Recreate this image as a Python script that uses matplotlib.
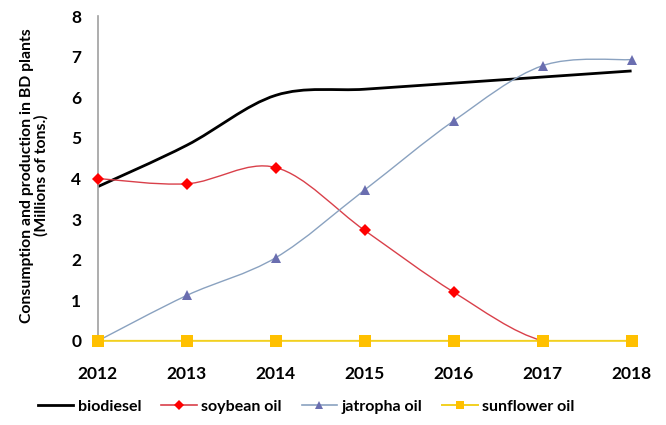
"""
Biodiesel consumption and production in BD plants, 2012-2018
Excel-style smoothed line chart.
"""

import numpy as np
import matplotlib
matplotlib.use("Agg")
import matplotlib.pyplot as plt
from matplotlib.path import Path
from matplotlib.patches import PathPatch
from matplotlib.lines import Line2D

plt.rcParams["font.family"] = ["Lato", "DejaVu Sans"]

# ── data ──────────────────────────────────────────────────────────────────
years = [2012, 2013, 2014, 2015, 2016, 2017, 2018]
biodiesel = [3.80, 4.82, 6.05, 6.20, 6.35, 6.50, 6.65]
soybean_oil = [4.00, 3.87, 4.27, 2.72, 1.20, 0.00, 0.00]
jatropha_oil = [0.00, 1.12, 2.05, 3.72, 5.42, 6.78, 6.93]
sunflower_oil = [0.00, 0.00, 0.00, 0.00, 0.00, 0.00, 0.00]

SERIES = [
    # label, values, line colour, line width, marker, marker colour, marker size, clip
    ("biodiesel", biodiesel, "#000000", 2.0, None, None, 0, False),
    ("soybean oil", soybean_oil, "#d9404a", 1.0, "D", "#ff0000", 6, True),
    ("jatropha oil", jatropha_oil, "#8aa2c0", 1.0, "^", "#6a6eb0", 7.5, False),
    ("sunflower oil", sunflower_oil, "#f2d020", 1.4, "s", "#ffc000", 8, False),
]


def smooth_path(x, y):
    """Excel-like smoothed line: cubic Bezier through points (Catmull-Rom /6)."""
    pts = np.column_stack([x, y]).astype(float)
    n = len(pts)
    verts = [pts[0]]
    codes = [Path.MOVETO]
    for i in range(n - 1):
        p0 = pts[max(i - 1, 0)]
        p1 = pts[i]
        p2 = pts[i + 1]
        p3 = pts[min(i + 2, n - 1)]
        c1 = p1 + (p2 - p0) / 6.0
        c2 = p2 - (p3 - p1) / 6.0
        verts += [c1, c2, p2]
        codes += [Path.CURVE4] * 3
    return Path(verts, codes)


fig = plt.figure(figsize=(6.66, 4.25), dpi=100)
ax = fig.add_axes([0.147, 0.198, 0.808, 0.764])

handles = []
for k, (label, vals, lc, lw, mk, mc, ms, clip) in enumerate(SERIES):
    patch = PathPatch(smooth_path(years, vals), facecolor="none", edgecolor=lc,
                      linewidth=lw, clip_on=clip, zorder=2 + 0.1 * k)
    ax.add_patch(patch)
    if mk:
        ax.plot(years, vals, linestyle="none", marker=mk, color=mc,
                markersize=ms, markeredgewidth=0, clip_on=False, zorder=3 + k)
    handles.append(Line2D([], [], color=lc, linewidth=max(lw, 1.2), marker=mk,
                          markerfacecolor=mc, markeredgewidth=0,
                          markersize=ms * 0.8 if mk else 0, label=label))

ax.set_xlim(2012, 2018.05)
ax.set_ylim(0, 8)
ax.set_xticks(years)
ax.set_yticks(range(0, 9))
ax.tick_params(length=0, labelsize=12.5)
for t in ax.get_xticklabels() + ax.get_yticklabels():
    t.set_fontweight("bold")
ax.tick_params(axis="x", pad=18)
ax.tick_params(axis="y", pad=12)

for s in ("top", "right", "bottom"):
    ax.spines[s].set_visible(False)
ax.spines["left"].set_color("#a0a0a0")
ax.spines["left"].set_linewidth(1.2)

ax.set_ylabel("Consumption and production in BD plants\n(Millions of tons.)",
              fontsize=11.3, fontweight="bold", linespacing=1.0)
ax.yaxis.set_label_coords(-0.092, 0.51)

fig.legend(handles=handles, loc="center", bbox_to_anchor=(0.46, 0.043),
           ncol=4, frameon=False, handlelength=2.2,
           handletextpad=0.3, columnspacing=1.25,
           prop={"weight": "bold", "size": 11.5})

fig.savefig("out.png", dpi=100)
